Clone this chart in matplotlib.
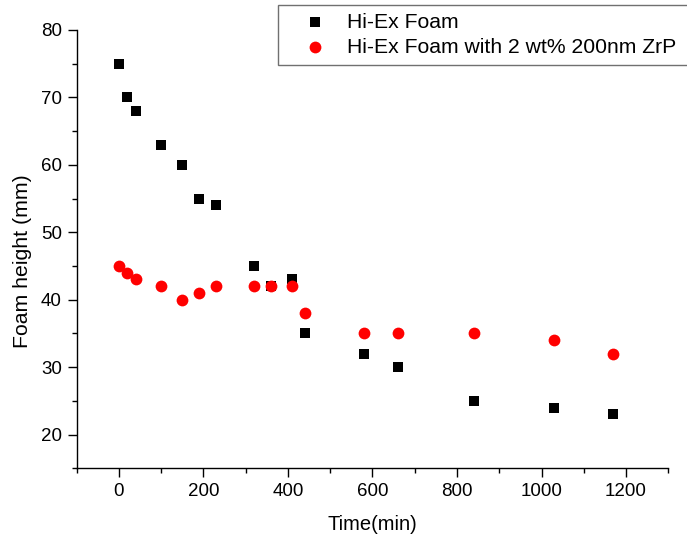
import matplotlib
matplotlib.use("Agg")
import matplotlib.pyplot as plt
from matplotlib.ticker import MultipleLocator

plt.rcParams['font.family'] = ['Liberation Sans', 'DejaVu Sans']

# Hi-Ex foam without additive
time_plain = [0, 20, 40, 100, 150, 190, 230, 320, 360, 410, 440, 580, 660, 840, 1030, 1170]
height_plain = [75, 70, 68, 63, 60, 55, 54, 45, 42, 43, 35, 32, 30, 25, 24, 23]

# Hi-Ex foam with 2 wt% 200nm ZrP
time_zrp = [0, 20, 40, 100, 150, 190, 230, 320, 360, 410, 440, 580, 660, 840, 1030, 1170]
height_zrp = [45, 44, 43, 42, 40, 41, 42, 42, 42, 42, 38, 35, 35, 35, 34, 32]

labels = ['Hi-Ex Foam', 'Hi-Ex Foam with 2 wt% 200nm ZrP']

fig = plt.figure(figsize=(6.87, 5.38), dpi=100)
ax = fig.add_axes([0.1114, 0.1296, 0.8614, 0.8147])

ax.scatter(time_plain, height_plain, marker='s', s=52, color='black',
           linewidths=0, label=labels[0], zorder=3)
ax.scatter(time_zrp, height_zrp, marker='o', s=72, color='#ff0000',
           linewidths=0, label=labels[1], zorder=3)

ax.set_xlim(-100, 1300)
ax.set_ylim(15, 80)
ax.xaxis.set_major_locator(MultipleLocator(200))
ax.xaxis.set_minor_locator(MultipleLocator(100))
ax.yaxis.set_major_locator(MultipleLocator(10))
ax.yaxis.set_minor_locator(MultipleLocator(5))

for side in ['top', 'right']:
    ax.spines[side].set_visible(False)
for side in ['left', 'bottom']:
    ax.spines[side].set_linewidth(1.0)

ax.tick_params(which='major', direction='out', length=6.5, width=1.0,
               labelsize=13.5, pad=4)
ax.tick_params(which='minor', direction='out', length=3.5, width=1.0)

ax.set_xlabel('Time(min)', fontsize=14.5, labelpad=11)
ax.set_ylabel('Foam height (mm)', fontsize=15.3)
ax.yaxis.set_label_coords(-0.076, 0.472)

# legend box runs off the right edge of the figure, as in the original
leg = ax.legend(loc='upper left',
                bbox_to_anchor=(278 / 687, 1 - 4.5 / 538, 420 / 687, 0),
                bbox_transform=fig.transFigure, mode='expand', fontsize=15.2,
                frameon=True, fancybox=False, framealpha=1,
                edgecolor='#707070', handletextpad=0.1, handlelength=2.75,
                borderpad=0.4, labelspacing=0.28, borderaxespad=0)
leg.get_frame().set_linewidth(1.0)

fig.savefig('out.png', dpi=100)
